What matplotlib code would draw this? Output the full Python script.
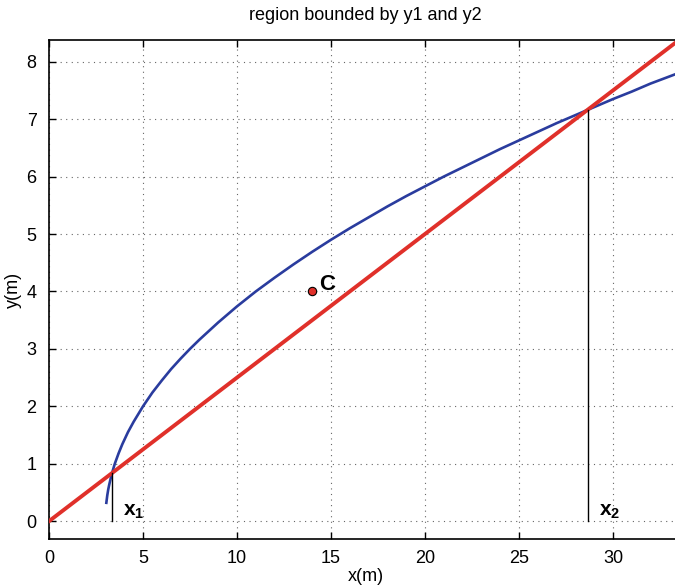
import numpy as np
import matplotlib
matplotlib.use("Agg")
import matplotlib.pyplot as plt

# y1 curve, points
curve_x = [3.05, 3.1, 3.15, 3.2, 3.3, 3.4, 3.5, 3.7, 3.9, 4.2, 4.5, 5, 5.5, 6, 6.5, 7, 7.5, 8, 9, 10,
           11, 12, 13, 14, 15, 16, 17, 18, 19, 20, 21, 22, 23, 24, 25, 26, 27, 28, 29, 30, 31, 32, 33.3]
curve_y = [0.32, 0.45, 0.55, 0.63, 0.77, 0.89, 1.0, 1.18, 1.34, 1.55, 1.73, 2.0, 2.24, 2.45, 2.65,
           2.83, 3.0, 3.16, 3.46, 3.74, 4.0, 4.24, 4.47, 4.69, 4.90, 5.10, 5.29, 5.48, 5.66, 5.83,
           6.0, 6.16, 6.32, 6.48, 6.63, 6.78, 6.93, 7.07, 7.21, 7.35, 7.48, 7.62, 7.78]
# y2 line
line_x = [0, 33.3]
line_y = [0, 8.325]
# intersections
x1, y1_at = 3.35, 0.84
x2, y2_at = 28.65, 7.16
# centroid
cx, cy = 14.0, 4.0

plt.rcParams['font.family'] = ['Liberation Sans', 'DejaVu Sans']
plt.rcParams['mathtext.fontset'] = 'custom'
plt.rcParams['mathtext.rm'] = 'Liberation Sans'
plt.rcParams['mathtext.bf'] = 'Liberation Sans:bold'

fig = plt.figure(figsize=(6.75, 5.87), dpi=100)
ax = fig.add_axes([0.0726, 0.0818, 0.9274 + 0.01, 0.8502])

ax.plot(curve_x, curve_y, color='#2a3c9e', lw=1.9, zorder=3, solid_joinstyle='round')
ax.plot(line_x, line_y, color='#e0302a', lw=2.8, zorder=4)
ax.plot([x1, x1], [0, y1_at], color='black', lw=1.0, zorder=5)
ax.plot([x2, x2], [0, y2_at], color='black', lw=1.0, zorder=5)
ax.plot(cx, cy, 'o', color='#e0302a', markeredgecolor='black', markersize=6, mew=0.8, zorder=6)
ax.text(cx + 0.35, cy + 0.12, 'C', fontsize=16, fontweight='bold', va='center', ha='left')
ax.text(x1 + 0.6, 0.0, r'$\mathbf{x_1}$', fontsize=15, va='bottom', ha='left')
ax.text(x2 + 0.6, 0.0, r'$\mathbf{x_2}$', fontsize=15, va='bottom', ha='left')

ax.set_xlim(0, 33.3 + 0.36)
ax.set_ylim(-0.31, 8.38)
ax.set_xticks([0, 5, 10, 15, 20, 25, 30])
ax.set_yticks(range(0, 9))
ax.tick_params(direction='in', top=True, right=False, labelsize=13, width=1, length=5)
ax.tick_params(axis='x', pad=8)
ax.tick_params(axis='y', pad=9)
ax.grid(True, linestyle=(0, (1, 4)), color='#666666', lw=0.8)
for s in ['left', 'bottom', 'top']:
    ax.spines[s].set_linewidth(1.2)
ax.spines['right'].set_visible(False)

ax.set_title('region bounded by y1 and y2', fontsize=13, pad=14)
ax.set_xlabel('x(m)', fontsize=13, labelpad=1)
ax.set_ylabel('y(m)', fontsize=13, labelpad=3)

fig.savefig('out.png', dpi=100)
